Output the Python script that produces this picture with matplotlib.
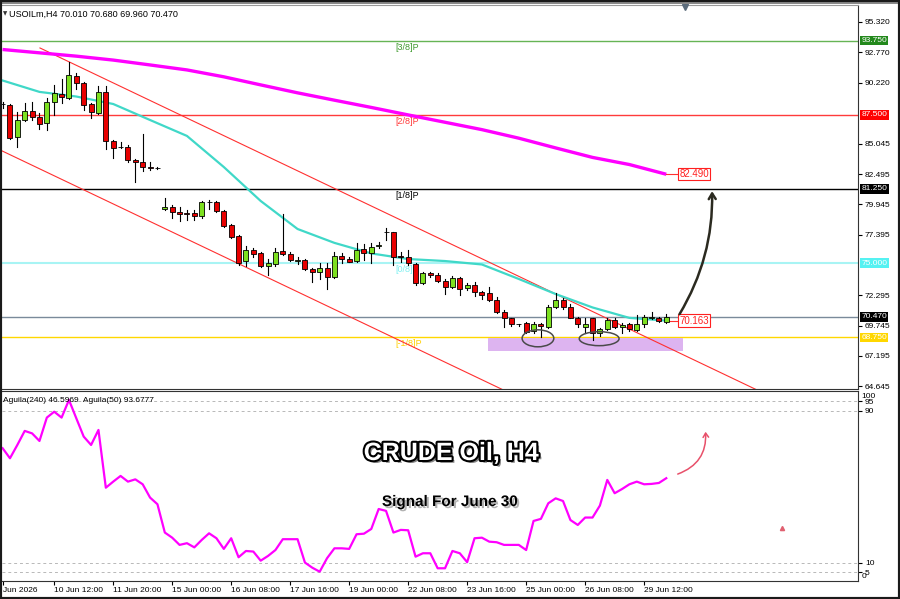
import matplotlib
matplotlib.use("Agg")
import matplotlib.pyplot as plt
import matplotlib.patheffects as pe
from matplotlib.patches import Rectangle, Ellipse, FancyArrowPatch
from matplotlib.transforms import blended_transform_factory

plt.rcParams['font.family'] = ['Liberation Sans', 'DejaVu Sans']

# ── Candles (H4, oldest first) ──────────────────────────────────────────────
opens = [88.42, 88.33, 85.61, 87.06, 87.82, 87.32, 86.79, 88.60, 89.23, 88.94,
         90.80, 90.16, 88.39, 87.63, 89.40, 85.30, 84.81, 84.81, 83.69, 83.50,
         83.13, 83.00, 79.54, 79.76, 79.34, 79.20, 79.20, 79.00, 80.18, 80.18,
         79.40, 78.22, 77.29, 75.18, 76.11, 75.83, 74.77, 74.91, 76.03, 75.75,
         75.20, 75.27, 74.51, 74.23, 74.62, 73.86, 75.63, 75.35, 75.18, 76.19,
         75.83, 76.48, 77.60, 77.60, 75.57, 75.50, 74.91, 73.31, 74.15, 74.01,
         73.50, 73.02, 73.78, 72.88, 73.17, 72.55, 72.46, 71.90, 70.86, 70.36,
         69.86, 69.94, 69.29, 69.85, 69.65, 71.30, 71.90, 71.33, 70.41, 69.65,
         70.36, 69.10, 69.43, 70.22, 69.60, 69.85, 69.37, 69.85, 70.40, 70.41,
         70.01]
highs = [88.60, 88.40, 87.76, 88.52, 88.60, 87.63, 88.94, 90.01, 90.52, 91.92,
         91.00, 90.29, 88.47, 89.95, 89.95, 85.38, 85.19, 84.96, 83.78, 85.86,
         83.50, 83.10, 80.47, 79.90, 79.76, 79.48, 79.48, 80.24, 80.32, 80.24,
         79.48, 78.28, 77.38, 76.47, 76.26, 75.92, 75.35, 76.26, 79.12, 75.92,
         75.55, 75.35, 74.62, 74.99, 74.99, 75.97, 75.83, 75.55, 76.68, 76.60,
         76.68, 76.77, 77.95, 77.65, 75.92, 76.11, 74.99, 74.23, 74.29, 74.15,
         73.67, 73.95, 73.86, 73.31, 73.39, 72.66, 73.02, 72.18, 71.06, 70.41,
         69.90, 70.07, 70.02, 69.94, 71.48, 72.46, 72.04, 71.53, 70.49, 70.36,
         70.41, 69.57, 70.36, 70.36, 69.94, 69.94, 70.60, 70.64, 70.91, 70.49,
         70.68]
lows = [88.10, 85.50, 84.81, 86.98, 87.06, 86.31, 86.22, 87.48, 88.52, 88.81,
        89.65, 87.91, 87.26, 87.54, 84.62, 83.89, 84.68, 83.50, 81.87, 82.77,
        82.85, 82.95, 79.48, 78.83, 78.56, 78.64, 78.64, 78.78, 79.57, 79.35,
        78.07, 77.10, 74.85, 74.77, 75.55, 74.71, 74.00, 74.79, 75.69, 75.19,
        74.93, 74.40, 73.39, 73.67, 72.82, 73.78, 74.99, 75.08, 75.13, 75.27,
        74.99, 76.26, 76.95, 74.85, 75.08, 74.85, 73.17, 73.22, 73.86, 73.39,
        72.38, 72.88, 72.32, 72.74, 72.26, 71.99, 71.82, 70.78, 69.65, 69.74,
        69.74, 69.10, 69.10, 68.81, 69.57, 71.21, 71.14, 70.36, 69.65, 69.10,
        68.53, 68.90, 69.37, 69.52, 69.10, 69.29, 69.29, 69.65, 70.30, 70.05,
        69.96]
closes = [88.40, 85.57, 87.06, 87.82, 87.29, 86.73, 88.60, 89.31, 88.98, 90.85,
          90.21, 88.33, 87.76, 89.45, 85.30, 84.73, 84.78, 83.69, 83.50, 83.13,
          83.00, 82.98, 79.76, 79.29, 79.14, 79.18, 79.00, 80.13, 80.15, 79.40,
          78.13, 77.23, 75.04, 76.11, 75.75, 74.79, 75.00, 75.92, 75.75, 75.27,
          75.22, 74.49, 74.23, 74.62, 73.86, 75.63, 75.33, 75.13, 76.11, 75.83,
          76.39, 76.50, 77.65, 75.55, 75.55, 74.99, 73.31, 74.15, 74.01, 73.50,
          73.02, 73.78, 72.82, 73.17, 72.60, 72.32, 71.90, 70.86, 70.36, 69.85,
          69.86, 69.18, 69.85, 69.68, 71.33, 71.90, 71.33, 70.41, 69.85, 69.85,
          69.10, 69.43, 70.22, 69.65, 69.75, 69.43, 69.85, 70.44, 70.42, 70.10,
          70.47]

# ── Lower oscillator (one value per candle) ─────────────────────────────────
osc = [70.4, 65.1, 72.1, 79.5, 78.2, 74.2, 86.5, 89.6, 86.5, 95.8,
       86.1, 76.5, 72.1, 80.0, 49.6, 52.8, 55.8, 52.8, 54.0, 51.4,
       44.4, 40.9, 26.0, 23.3, 19.5, 20.4, 18.2, 22.1, 25.6, 23.0,
       17.4, 23.0, 13.0, 16.3, 16.0, 11.2, 13.7, 16.8, 22.5, 22.5,
       22.5, 10.2, 7.5, 5.4, 12.5, 17.7, 17.7, 17.4, 25.1, 25.4,
       27.9, 38.4, 37.4, 26.0, 27.4, 27.2, 13.3, 15.1, 15.1, 7.2,
       7.2, 16.3, 15.1, 10.4, 23.0, 23.3, 21.2, 20.9, 19.5, 19.5,
       19.5, 16.8, 32.1, 33.2, 41.4, 44.0, 42.6, 32.6, 30.0, 33.9,
       33.9, 40.2, 53.7, 46.7, 48.9, 51.4, 52.8, 51.4, 51.6, 52.1,
       54.6]

# ── Moving averages, read every 5 bars ──────────────────────────────────────
ma_idx = [0, 5, 10, 15, 20, 25, 30, 35, 40, 45, 50, 55, 60, 65, 70, 75, 80, 85, 90]
ma_slow = [93.00, 92.72, 92.44, 92.11, 91.70, 91.28, 90.70, 90.02, 89.35, 88.73,
           88.12, 87.49, 86.87, 86.25, 85.53, 84.71, 83.91, 83.31, 82.49]
ma_fast = [90.39, 89.43, 89.04, 88.41, 87.06, 85.72, 83.10, 80.24, 77.88, 76.71,
           75.82, 75.35, 75.18, 74.89, 73.67, 72.40, 71.27, 70.39, 70.16]

# ── Levels / annotations ────────────────────────────────────────────────────
murrey_levels = [93.75, 87.50, 81.25, 75.00, 68.75]
murrey_labels = ["[3/8]P", "[2/8]P", "[1/8]P", "[0/8]P", "[-1/8]P"]
murrey_line_colors = ["#66b455", "#ff3b3b", "#000000", "#a8f4f4", "#ffd700"]
murrey_text_colors = ["#3f9a2e", "#ff3b3b", "#000000", "#7ff0f0", "#ffd000"]
murrey_box_colors = ["#23891c", "#ff0000", "#000000", "#55f2f2", "#ffd700"]
bid = 70.47

chan_upper_x, chan_upper_y = [5.07, 102.3], [93.13, 64.32]
chan_lower_x, chan_lower_y = [-0.35, 67.9], [84.54, 64.32]

zone_x, zone_y = [65.8, 92.3], [67.63, 68.67]
ellipse_centers = [(72.6, 68.67), (80.9, 68.64)]
ellipse_sizes = [(4.3, 1.43), (5.4, 1.18)]

price_ticks = [95.320, 92.770, 90.220, 85.045, 82.495, 79.945, 77.395,
               72.295, 69.745, 67.195, 64.645]

time_idx = [0, 7, 15, 23, 31, 39, 47, 55, 63, 71, 79, 87]
time_labels = ["Jun 2026", "10 Jun 12:00", "11 Jun 20:00", "15 Jun 00:00",
               "16 Jun 08:00", "17 Jun 16:00", "19 Jun 00:00", "22 Jun 08:00",
               "23 Jun 16:00", "25 Jun 00:00", "26 Jun 08:00", "29 Jun 12:00"]

# ── Figure ──────────────────────────────────────────────────────────────────
W, H = 900, 599
fig = plt.figure(figsize=(9, 5.99), dpi=100)
fig.patch.set_facecolor("white")

ax = fig.add_axes([2 / W, 1 - 389 / H, 856 / W, 384 / H])
ax2 = fig.add_axes([2 / W, 1 - 581 / H, 856 / W, 190 / H])
XLIM = (-0.08, 116.0)

# main panel
ax.set_xlim(*XLIM)
ax.set_ylim(64.40, 96.75)

for lvl, lc in zip(murrey_levels, murrey_line_colors):
    ax.axhline(lvl, color=lc, lw=1.5 if lc == "#a8f4f4" else 1.0, zorder=1)
ax.axhline(bid, color="#7a8a9a", lw=1.0, zorder=1)

for lvl, lab, tc in zip(murrey_levels, murrey_labels, murrey_text_colors):
    ax.annotate(lab, xy=(53.2, lvl), xytext=(0, -1.5), textcoords="offset points",
                ha="left", va="top", fontsize=6.5, color=tc, zorder=2)

ax.add_patch(Rectangle((zone_x[0], zone_y[0]), zone_x[1] - zone_x[0],
                       zone_y[1] - zone_y[0], fc="#ddb4f0", ec="none", zorder=1.5))

ax.plot(chan_upper_x, chan_upper_y, color="#ff3030", lw=0.8, zorder=2)
ax.plot(chan_lower_x, chan_lower_y, color="#ff3030", lw=0.8, zorder=2)

ax.plot(ma_idx, ma_slow, color="#ff00ff", lw=2.4, zorder=3, solid_capstyle="butt")
ax.plot(ma_idx, ma_fast, color="#40d8c8", lw=1.6, zorder=3)

# candles
bw = 0.68
for i, (o, h, l, c) in enumerate(zip(opens, highs, lows, closes)):
    ax.plot([i, i], [l, h], color="black", lw=0.8, zorder=4)
    lo = min(o, c)
    ht = max(abs(c - o), 0.03)
    fc = "#7de020" if c >= o else "#e80000"
    ax.add_patch(Rectangle((i - bw / 2, lo), bw, ht, fc=fc, ec="black", lw=0.6, zorder=5))

for (cx, cy), (ew, eh) in zip(ellipse_centers, ellipse_sizes):
    ax.add_patch(Ellipse((cx, cy), ew, eh, fill=False, ec="#4a4a4a", lw=1.1, zorder=6))

# MA end labels
ax.plot([90, 91.5], [ma_slow[-1], ma_slow[-1]], color="#ff3030", lw=0.8, zorder=3)
ax.plot([90, 91.5], [ma_fast[-1], ma_fast[-1]], color="#ff3030", lw=0.8, zorder=3)
for v, s in [(ma_slow[-1], "82.490"), (ma_fast[-1], "70.163")]:
    ax.text(91.75, v, s, ha="left", va="center", fontsize=7, color="#ff2020", zorder=7,
            bbox=dict(boxstyle="square,pad=0.12", fc="white", ec="#ff2020", lw=0.8))

# forecast arrow
ax.add_patch(FancyArrowPatch((91.6, 70.5), (96.2, 81.3),
                             connectionstyle="arc3,rad=0.15",
                             arrowstyle="->,head_length=4,head_width=2.5",
                             color="#2b2a20", lw=1.8, zorder=7))

# shift marker
ax.plot([92.5], [96.55], marker="v", color="#5b6b7b", ms=5, clip_on=False, zorder=8)

# right price axis
ax.yaxis.tick_right()
ax.set_yticks(price_ticks)
ax.set_yticklabels([f"{p:.3f}" for p in price_ticks])
ax.tick_params(axis="y", labelsize=6, length=3, pad=2, width=0.8)
ax.set_xticks([])

tr = blended_transform_factory(ax.transAxes, ax.transData)
for lvl, bc in zip(murrey_levels, murrey_box_colors):
    ax.text(1.004, lvl, f"{lvl:.3f}", transform=tr, ha="left", va="center",
            fontsize=6, color="white", clip_on=False, zorder=9,
            bbox=dict(boxstyle="square,pad=0.15", fc=bc, ec="none"))
ax.text(1.004, bid, f"{bid:.3f}", transform=tr, ha="left", va="center",
        fontsize=6, color="white", clip_on=False, zorder=9,
        bbox=dict(boxstyle="square,pad=0.15", fc="black", ec="none"))

for side in ["left"]:
    ax.spines[side].set_visible(False)
ax.spines["top"].set_color("#999999")
ax.spines["right"].set_color("#333333")
ax.spines["bottom"].set_color("#333333")

# lower panel
ax2.set_xlim(*XLIM)
ax2.set_ylim(0.5, 100.5)
for lvl in [95, 90, 10, 5]:
    ax2.axhline(lvl, color="#b8b8b8", lw=0.7, ls=(0, (3, 3)), zorder=1)
ax2.plot(range(len(osc)), osc, color="#ff00ff", lw=1.6, zorder=3)

ax2.add_patch(FancyArrowPatch((91.2, 56.3), (95.3, 80.5),
                              connectionstyle="arc3,rad=0.4",
                              arrowstyle="->,head_length=3,head_width=2",
                              color="#e8506a", lw=1.1, zorder=4))
ax2.plot([105.7], [28.4], marker="^", color="#e06070", ms=3, zorder=4)

ax2.yaxis.tick_right()
ax2.set_yticks([95, 90, 10, 5])
ax2.set_yticklabels(["95", "90", "10", "5"])
ax2.tick_params(axis="y", labelsize=6, length=3, pad=2, width=0.8)
tr2 = blended_transform_factory(ax2.transAxes, ax2.transData)
ax2.text(1.004, 97.6, "100", transform=tr2, ha="left", va="center", fontsize=6, clip_on=False)
ax2.text(1.004, 3.0, "0", transform=tr2, ha="left", va="center", fontsize=6, clip_on=False)

ax2.set_xticks(time_idx)
ax2.set_xticklabels(time_labels)
plt.setp(ax2.get_xticklabels(), ha="left")
ax2.tick_params(axis="x", labelsize=6, length=3, pad=1, width=0.8)
ax2.spines["left"].set_visible(False)
for side in ["top", "right", "bottom"]:
    ax2.spines[side].set_color("#333333")

# texts
fig.text(3 / W, 1 - 14 / H, "\u25BC", fontsize=4, va="center", ha="left",
         color="#333333", family=["DejaVu Sans"])
fig.text(9 / W, 1 - 14 / H, "USOILm,H4 70.010 70.680 69.960 70.470",
         fontsize=6.5, va="center", ha="left")
fig.text(3 / W, 1 - 400 / H, "Aguila(240) 46.5969  Aguila(50) 93.6777",
         fontsize=6, va="center", ha="left")

fig.text(451 / W, 1 - 453 / H, "CRUDE Oil, H4", fontsize=18, fontweight="bold",
         color="white", ha="center", va="center",
         path_effects=[pe.SimplePatchShadow(offset=(2, -2), shadow_rgbFace="#666666", alpha=0.8),
                       pe.Stroke(linewidth=3, foreground="black"), pe.Normal()])
fig.text(450 / W, 1 - 502 / H, "Signal For June 30", fontsize=11, fontweight="bold",
         color="black", ha="center", va="center",
         path_effects=[pe.SimplePatchShadow(offset=(1.5, -1.5), shadow_rgbFace="#aaaaaa", alpha=0.9),
                       pe.Normal()])

# outer frame
fig.add_artist(Rectangle((0, 1 - 4 / H), 1, 4 / H, transform=fig.transFigure,
                         fc="#8a8a8a", ec="none"))
fig.add_artist(Rectangle((0, 0), 1, 1, transform=fig.transFigure, fill=False,
                         ec="#1a1a1a", lw=3))

fig.savefig("out.png", dpi=100)
